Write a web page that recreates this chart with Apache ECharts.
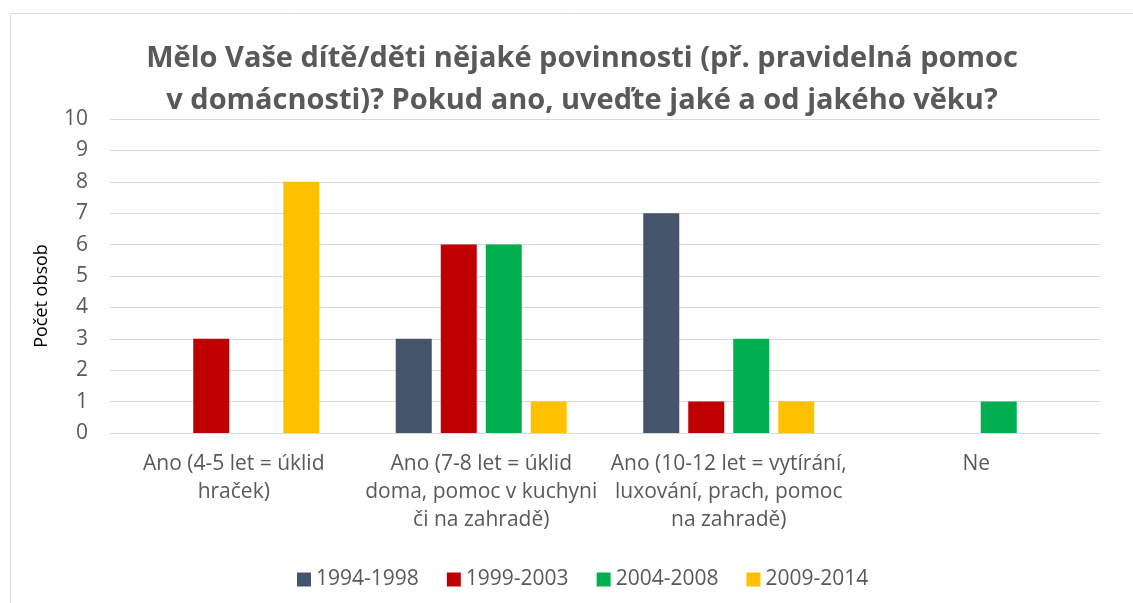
<!DOCTYPE html>
<html>
<head>
<meta charset="utf-8">
<script src="https://cdn.jsdelivr.net/npm/echarts@6/dist/echarts.min.js"></script>
<style>
  html, body { margin: 0; padding: 0; background: #fff; }
  #chart { width: 1133px; height: 603px; }
</style>
</head>
<body>
<div id="chart"></div>
<script>
// Data
const categories = [
  'Ano (4-5 let = úklid\nhraček)',
  'Ano (7-8 let = úklid\ndoma, pomoc v kuchyni\nči na zahradě)',
  'Ano (10-12 let = vytírání,\nluxování, prach, pomoc\nna zahradě)',
  'Ne'
];
const seriesNames = ['1994-1998', '1999-2003', '2004-2008', '2009-2014'];
const values1994 = [0, 3, 7, 0];
const values1999 = [3, 6, 1, 0];
const values2004 = [0, 6, 3, 1];
const values2009 = [8, 1, 1, 0];
const colors = ['#44546A', '#C00000', '#00B050', '#FFC000'];

const textColor = '#595959';
const font = '"Open Sans", sans-serif';

const chart = echarts.init(document.getElementById('chart'), null, { renderer: 'canvas' });

const allValues = [values1994, values1999, values2004, values2009];

chart.setOption({
  animation: false,
  color: colors,
  textStyle: { fontFamily: font, color: textColor },
  title: {
    text: 'Mělo Vaše dítě/děti nějaké povinnosti (př. pravidelná pomoc\nv domácnosti)? Pokud ano, uveďte jaké a od jakého věku?',
    left: 577,
    textAlign: 'center',
    top: 33,
    textStyle: {
      fontFamily: font,
      fontSize: 29,
      fontWeight: 'bold',
      color: textColor,
      lineHeight: 42
    }
  },
  grid: { left: 110, right: 33, top: 119, bottom: 170 },
  legend: {
    top: 564,
    left: 292,
    itemWidth: 14,
    itemHeight: 14,
    itemGap: 28,
    icon: 'rect',
    textStyle: { fontFamily: font, fontSize: 21, color: textColor },
    data: seriesNames
  },
  xAxis: {
    type: 'category',
    data: categories,
    axisLine: { lineStyle: { color: '#D9D9D9', width: 1 } },
    axisTick: { show: false },
    axisLabel: {
      interval: 0,
      margin: 17,
      fontFamily: font,
      fontSize: 21,
      lineHeight: 28,
      color: textColor
    }
  },
  yAxis: {
    type: 'value',
    min: 0,
    max: 10,
    interval: 1,
    axisLine: { show: false },
    axisTick: { show: false },
    splitLine: { lineStyle: { color: '#D9D9D9', width: 1 } },
    axisLabel: { margin: 22, fontFamily: font, fontSize: 21, color: textColor }
  },
  graphic: [
    {
      type: 'rect',
      silent: true,
      shape: { x: 10.5, y: 13.5, width: 1200, height: 700 },
      style: { fill: 'none', stroke: '#D9D9D9', lineWidth: 1 }
    },
    {
      type: 'text',
      x: 42,
      y: 296,
      rotation: Math.PI / 2,
      style: {
        text: 'Počet obsob',
        fontFamily: font,
        fontSize: 18,
        fill: '#000',
        textAlign: 'center',
        textVerticalAlign: 'middle'
      }
    }
  ],
  series: seriesNames.map((name, i) => ({
    name: name,
    type: 'bar',
    barWidth: 36,
    barGap: '25%',
    data: allValues[i]
  }))
});
</script>
</body>
</html>
